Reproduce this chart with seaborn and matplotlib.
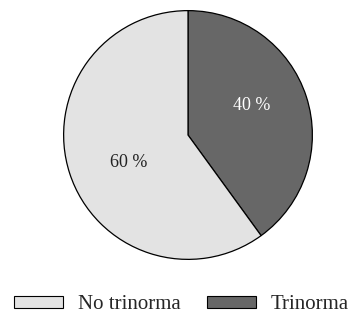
import matplotlib
matplotlib.use("Agg")
import matplotlib.pyplot as plt
import matplotlib.patches as mpatches
import seaborn as sns

# Data
categories = ["Trinorma", "No trinorma"]
shares = [40, 60]
slice_colors = ["#676767", "#e3e3e3"]
label_colors = ["white", "#222222"]
legend_order = ["No trinorma", "Trinorma"]

sns.set_theme(style="white")
plt.rcParams['font.family'] = ['Liberation Serif', 'DejaVu Serif']

fig = plt.figure(figsize=(3.49, 3.15), dpi=100)
ax = fig.add_axes([63 / 349, 55 / 315, 250 / 349, 250 / 315])

wedges, texts, autotexts = ax.pie(
    shares,
    colors=slice_colors,
    startangle=90,
    counterclock=False,
    autopct=lambda p: f"{p:.0f} %",
    pctdistance=0.56,
    radius=1,
    wedgeprops=dict(edgecolor="black", linewidth=0.9),
    textprops=dict(fontsize=13),
)
# percent labels sit a bit higher/lower than the wedge bisector in the original
label_pos = [(0.516, 0.24), (-0.476, -0.22)]
for t, c, p in zip(autotexts, label_colors, label_pos):
    t.set_color(c)
    t.set_position(p)

ax.set_xlim(-1.005, 1.005)
ax.set_ylim(-1.005, 1.005)
ax.set_aspect("equal")
ax.axis("off")

# Legend at the bottom
color_map = dict(zip(categories, slice_colors))
handles = [mpatches.Patch(facecolor=color_map[c], edgecolor="black", linewidth=0.8, label=c)
           for c in legend_order]
fig.legend(handles=handles, loc="lower left", bbox_to_anchor=(13 / 349, 0),
           ncol=2, frameon=False, fontsize=15, handlelength=2.35, handleheight=0.5,
           handletextpad=0.7, columnspacing=1.3, borderpad=0.05, borderaxespad=0)

fig.savefig("out.png", dpi=100)
